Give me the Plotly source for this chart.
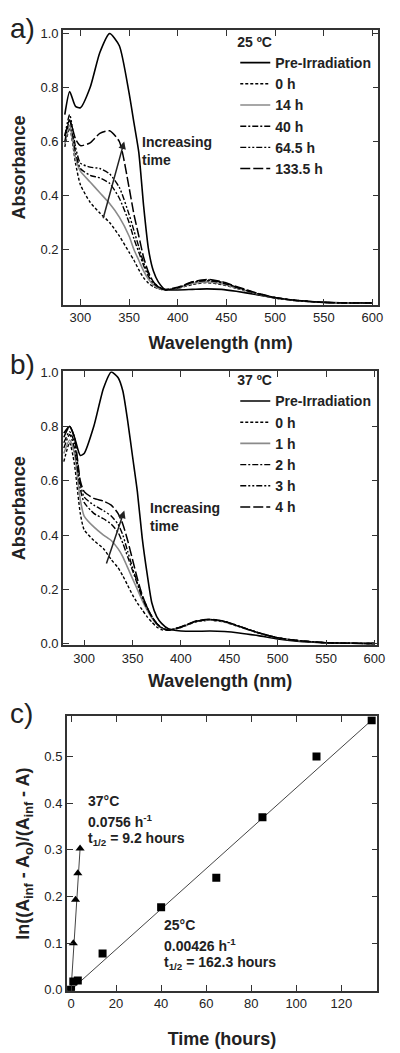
import plotly.graph_objects as go

FONT = "Arial, Liberation Sans, sans-serif"
TXT = "#222222"

# ---------------- Panel a (25 ºC) ----------------
wl_a = [284, 289, 295, 300, 310, 320, 330, 340, 350, 355, 360, 365, 370, 375, 380, 387,
        400, 415, 430, 445, 460, 480, 500, 520, 550, 575, 600]
a_pre = [0.70, 0.785, 0.73, 0.725, 0.80, 0.93, 1.0, 0.955, 0.78, 0.67, 0.56, 0.36, 0.20, 0.12, 0.08, 0.052,
         0.050, 0.052, 0.054, 0.052, 0.045, 0.033, 0.020, 0.011, 0.004, 0.002, 0.002]
a_0h = [0.58, 0.65, 0.52, 0.44, 0.375, 0.335, 0.30, 0.25, 0.19, 0.16, 0.125, 0.095, 0.075, 0.062, 0.055, 0.050,
        0.056, 0.070, 0.077, 0.070, 0.056, 0.036, 0.020, 0.011, 0.004, 0.002, 0.002]
a_14h = [0.59, 0.66, 0.54, 0.49, 0.45, 0.41, 0.37, 0.32, 0.25, 0.20, 0.16, 0.12, 0.09, 0.07, 0.056, 0.050,
         0.057, 0.074, 0.080, 0.073, 0.058, 0.037, 0.021, 0.011, 0.004, 0.002, 0.002]
a_40h = [0.60, 0.68, 0.56, 0.50, 0.475, 0.465, 0.445, 0.39, 0.30, 0.24, 0.19, 0.14, 0.10, 0.075, 0.060, 0.050,
         0.058, 0.078, 0.084, 0.077, 0.060, 0.038, 0.021, 0.012, 0.004, 0.002, 0.002]
a_64h = [0.62, 0.70, 0.58, 0.52, 0.505, 0.50, 0.48, 0.43, 0.33, 0.27, 0.21, 0.15, 0.11, 0.08, 0.062, 0.050,
         0.058, 0.079, 0.087, 0.079, 0.061, 0.039, 0.022, 0.012, 0.004, 0.002, 0.002]
a_133h = [0.62, 0.68, 0.61, 0.585, 0.595, 0.63, 0.64, 0.60, 0.43, 0.33, 0.25, 0.17, 0.115, 0.08, 0.062, 0.052,
          0.060, 0.080, 0.089, 0.081, 0.063, 0.040, 0.022, 0.012, 0.004, 0.002, 0.002]
labels_a = ["Pre-Irradiation", "0 h", "14 h", "40 h", "64.5 h", "133.5 h"]

# ---------------- Panel b (37 ºC) ----------------
wl_b = [279, 285, 290, 296, 300, 310, 320, 328, 335, 340, 345, 350, 355, 360, 365, 370, 375, 380, 387,
        400, 415, 430, 445, 460, 480, 500, 520, 550, 575, 600]
b_pre = [0.775, 0.80, 0.76, 0.693, 0.70, 0.80, 0.94, 1.0, 0.98, 0.93, 0.82, 0.69, 0.56, 0.39, 0.26, 0.15, 0.10, 0.075, 0.055,
         0.047, 0.046, 0.047, 0.045, 0.040, 0.030, 0.018, 0.010, 0.004, 0.002, 0.001]
b_0h = [0.67, 0.74, 0.66, 0.48, 0.42, 0.38, 0.35, 0.31, 0.28, 0.25, 0.215, 0.18, 0.15, 0.125, 0.10, 0.08, 0.062, 0.052, 0.050,
        0.060, 0.080, 0.087, 0.080, 0.063, 0.040, 0.022, 0.012, 0.004, 0.002, 0.001]
b_1h = [0.70, 0.75, 0.70, 0.53, 0.47, 0.43, 0.40, 0.38, 0.35, 0.32, 0.28, 0.24, 0.20, 0.16, 0.125, 0.095, 0.072, 0.058, 0.050,
        0.061, 0.081, 0.088, 0.081, 0.064, 0.040, 0.022, 0.012, 0.004, 0.002, 0.001]
b_2h = [0.72, 0.77, 0.72, 0.57, 0.52, 0.48, 0.46, 0.44, 0.41, 0.37, 0.32, 0.27, 0.22, 0.17, 0.13, 0.10, 0.075, 0.060, 0.050,
        0.061, 0.082, 0.089, 0.082, 0.064, 0.041, 0.022, 0.012, 0.004, 0.002, 0.001]
b_3h = [0.74, 0.78, 0.74, 0.59, 0.54, 0.51, 0.49, 0.47, 0.44, 0.40, 0.34, 0.28, 0.225, 0.175, 0.135, 0.10, 0.075, 0.060, 0.050,
        0.062, 0.082, 0.090, 0.082, 0.065, 0.041, 0.022, 0.012, 0.004, 0.002, 0.001]
b_4h = [0.76, 0.80, 0.76, 0.60, 0.56, 0.535, 0.525, 0.51, 0.48, 0.44, 0.38, 0.31, 0.24, 0.18, 0.135, 0.10, 0.075, 0.058, 0.050,
        0.062, 0.083, 0.090, 0.083, 0.065, 0.041, 0.022, 0.012, 0.004, 0.002, 0.001]
labels_b = ["Pre-Irradiation", "0 h", "1 h", "2 h", "3 h", "4 h"]

# ---------------- Panel c (kinetics) ----------------
t_25 = [0, 1, 3, 14, 40, 64.5, 85, 109, 133.5]
k_25 = [0.0, 0.018, 0.02, 0.078, 0.177, 0.24, 0.37, 0.50, 0.578]
fit25_t = [0, 133.5]
fit25_y = [0.0, 0.578]
t_37 = [0, 1, 2, 3, 4]
k_37 = [0.0, 0.10, 0.193, 0.25, 0.303]
fit37_t = [0, 4]
fit37_y = [0.0, 0.302]

styles = [
    dict(color="black", dash="solid", width=1.6),
    dict(color="black", dash="3px,2px", width=1.4),
    dict(color="#8a8a8a", dash="solid", width=1.6),
    dict(color="black", dash="6px,2px,2px,2px", width=1.4),
    dict(color="black", dash="6px,2px,2px,2px,2px,2px", width=1.4),
    dict(color="black", dash="10px,3px", width=1.5),
]

fig = go.Figure()
for ys, lab, st in zip([a_pre, a_0h, a_14h, a_40h, a_64h, a_133h], labels_a, styles):
    fig.add_trace(go.Scatter(x=wl_a, y=ys, name=lab, mode="lines", line=dict(shape="spline", smoothing=0.6, **st),
                             xaxis="x", yaxis="y", legend="legend"))
for ys, lab, st in zip([b_pre, b_0h, b_1h, b_2h, b_3h, b_4h], labels_b, styles):
    fig.add_trace(go.Scatter(x=wl_b, y=ys, name=lab, mode="lines", line=dict(shape="spline", smoothing=0.6, **st),
                             xaxis="x2", yaxis="y2", legend="legend2"))

fig.add_trace(go.Scatter(x=fit25_t, y=fit25_y, mode="lines", line=dict(color="#444", width=1),
                         xaxis="x3", yaxis="y3", showlegend=False))
fig.add_trace(go.Scatter(x=fit37_t, y=fit37_y, mode="lines", line=dict(color="#444", width=1),
                         xaxis="x3", yaxis="y3", showlegend=False))
fig.add_trace(go.Scatter(x=t_37, y=k_37, mode="markers", marker=dict(symbol="triangle-up", size=8, color="black"),
                         xaxis="x3", yaxis="y3", showlegend=False))
fig.add_trace(go.Scatter(x=t_25, y=k_25, mode="markers", marker=dict(symbol="square", size=8, color="black"),
                         xaxis="x3", yaxis="y3", showlegend=False))

# page offset of the plot (default 8px body margin of the html page)
OX, OY = 8.0, 8.0
W, H = 392.0, 1045.0
def px(p):
    return (p - OX) / W
def py(p):
    return 1 - (p - OY) / H
def ydom(top, bot):
    return [py(bot), py(top)]

axis_common = dict(showline=True, linecolor="#333", linewidth=1.5, mirror="ticks", ticks="inside",
                   ticklen=6, tickwidth=1.3, tickcolor="#333", showgrid=False, zeroline=False,
                   tickfont=dict(family=FONT, size=13, color=TXT))
title_font = dict(family=FONT, size=18, color=TXT, weight="bold")
leg_font = dict(family=FONT, size=14, color=TXT, weight="bold")

fig.update_layout(
    width=int(W), height=int(H), margin=dict(l=0, r=0, t=0, b=0),
    paper_bgcolor="white", plot_bgcolor="white",
    font=dict(family=FONT, color=TXT),
    xaxis=dict(domain=[px(64), px(386)], anchor="y", range=[282, 606], tickvals=[300, 350, 400, 450, 500, 550, 600],
               title=dict(text="Wavelength (nm)", font=title_font, standoff=12), **axis_common),
    yaxis=dict(domain=ydom(23, 302), anchor="x", range=[-0.006, 1.014], tickvals=[0.2, 0.4, 0.6, 0.8, 1.0],
               tickformat=".1f", title=dict(text="Absorbance", font=title_font, standoff=10), **axis_common),
    xaxis2=dict(domain=[px(64), px(385)], anchor="y2", range=[278, 603], tickvals=[300, 350, 400, 450, 500, 550, 600],
                title=dict(text="Wavelength (nm)", font=title_font, standoff=10), **axis_common),
    yaxis2=dict(domain=ydom(369, 647), anchor="x2", range=[-0.006, 1.003], tickvals=[0.0, 0.2, 0.4, 0.6, 0.8, 1.0],
                tickformat=".1f", title=dict(text="Absorbance", font=title_font, standoff=10), **axis_common),
    xaxis3=dict(domain=[px(68), px(385)], anchor="y3", range=[-1.9, 136], tickvals=[0, 20, 40, 60, 80, 100, 120],
                title=dict(text="Time (hours)", font=title_font, standoff=22), **axis_common),
    yaxis3=dict(domain=ydom(719, 997), anchor="x3", range=[-0.002, 0.586], tickvals=[0.0, 0.1, 0.2, 0.3, 0.4, 0.5],
                tickformat=".1f",
                title=dict(text="ln((A<sub>inf</sub> - A<sub>o</sub>)/(A<sub>inf</sub> - A)", font=title_font, standoff=10),
                **axis_common),
    legend=dict(x=px(240), y=py(22), xanchor="left", yanchor="top", bgcolor="rgba(0,0,0,0)",
                title=dict(text="25 ºC", font=leg_font), font=leg_font, tracegroupgap=0, itemwidth=30),
    legend2=dict(x=px(240), y=py(365), xanchor="left", yanchor="top", bgcolor="rgba(0,0,0,0)",
                 title=dict(text="37 ºC", font=leg_font), font=leg_font, tracegroupgap=0, itemwidth=30),
)

ann_font = dict(family=FONT, size=14, color=TXT, weight="bold")
annotations = [
    # panel labels
    dict(text="a)", x=px(8), y=py(22), xref="paper", yref="paper", xanchor="left", yanchor="middle",
         showarrow=False, font=dict(family=FONT, size=28, color=TXT)),
    dict(text="b)", x=px(8), y=py(362), xref="paper", yref="paper", xanchor="left", yanchor="middle",
         showarrow=False, font=dict(family=FONT, size=28, color=TXT)),
    dict(text="c)", x=px(8), y=py(716), xref="paper", yref="paper", xanchor="left", yanchor="middle",
         showarrow=False, font=dict(family=FONT, size=28, color=TXT)),
    # arrows
    dict(x=345, y=0.60, ax=323, ay=0.31, xref="x", yref="y", axref="x", ayref="y", text="", showarrow=True,
         arrowhead=2, arrowsize=1, arrowwidth=1.5, arrowcolor="#222"),
    dict(text="Increasing<br>time", x=361, y=0.565, xref="x", yref="y", xanchor="left", yanchor="middle",
         align="left", showarrow=False, font=ann_font),
    dict(x=341.5, y=0.49, ax=322.5, ay=0.29, xref="x2", yref="y2", axref="x2", ayref="y2", text="", showarrow=True,
         arrowhead=2, arrowsize=1, arrowwidth=1.5, arrowcolor="#222"),
    dict(text="Increasing<br>time", x=366, y=0.465, xref="x2", yref="y2", xanchor="left", yanchor="middle",
         align="left", showarrow=False, font=ann_font),
    # panel c texts
    dict(text="37°C", x=6.5, y=0.405, xref="x3", yref="y3", xanchor="left", yanchor="middle", showarrow=False, font=ann_font),
    dict(text="0.0756 h<sup>-1</sup>", x=6.5, y=0.362, xref="x3", yref="y3", xanchor="left", yanchor="middle",
         showarrow=False, font=ann_font),
    dict(text="t<sub>1/2</sub> = 9.2 hours", x=6.5, y=0.323, xref="x3", yref="y3", xanchor="left", yanchor="middle",
         showarrow=False, font=ann_font),
    dict(text="25°C", x=40.5, y=0.14, xref="x3", yref="y3", xanchor="left", yanchor="middle", showarrow=False, font=ann_font),
    dict(text="0.00426 h<sup>-1</sup>", x=40.5, y=0.097, xref="x3", yref="y3", xanchor="left", yanchor="middle",
         showarrow=False, font=ann_font),
    dict(text="t<sub>1/2</sub> = 162.3 hours", x=40.5, y=0.058, xref="x3", yref="y3", xanchor="left", yanchor="middle",
         showarrow=False, font=ann_font),
]
fig.update_layout(annotations=annotations)

fig.write_html("out.html")
